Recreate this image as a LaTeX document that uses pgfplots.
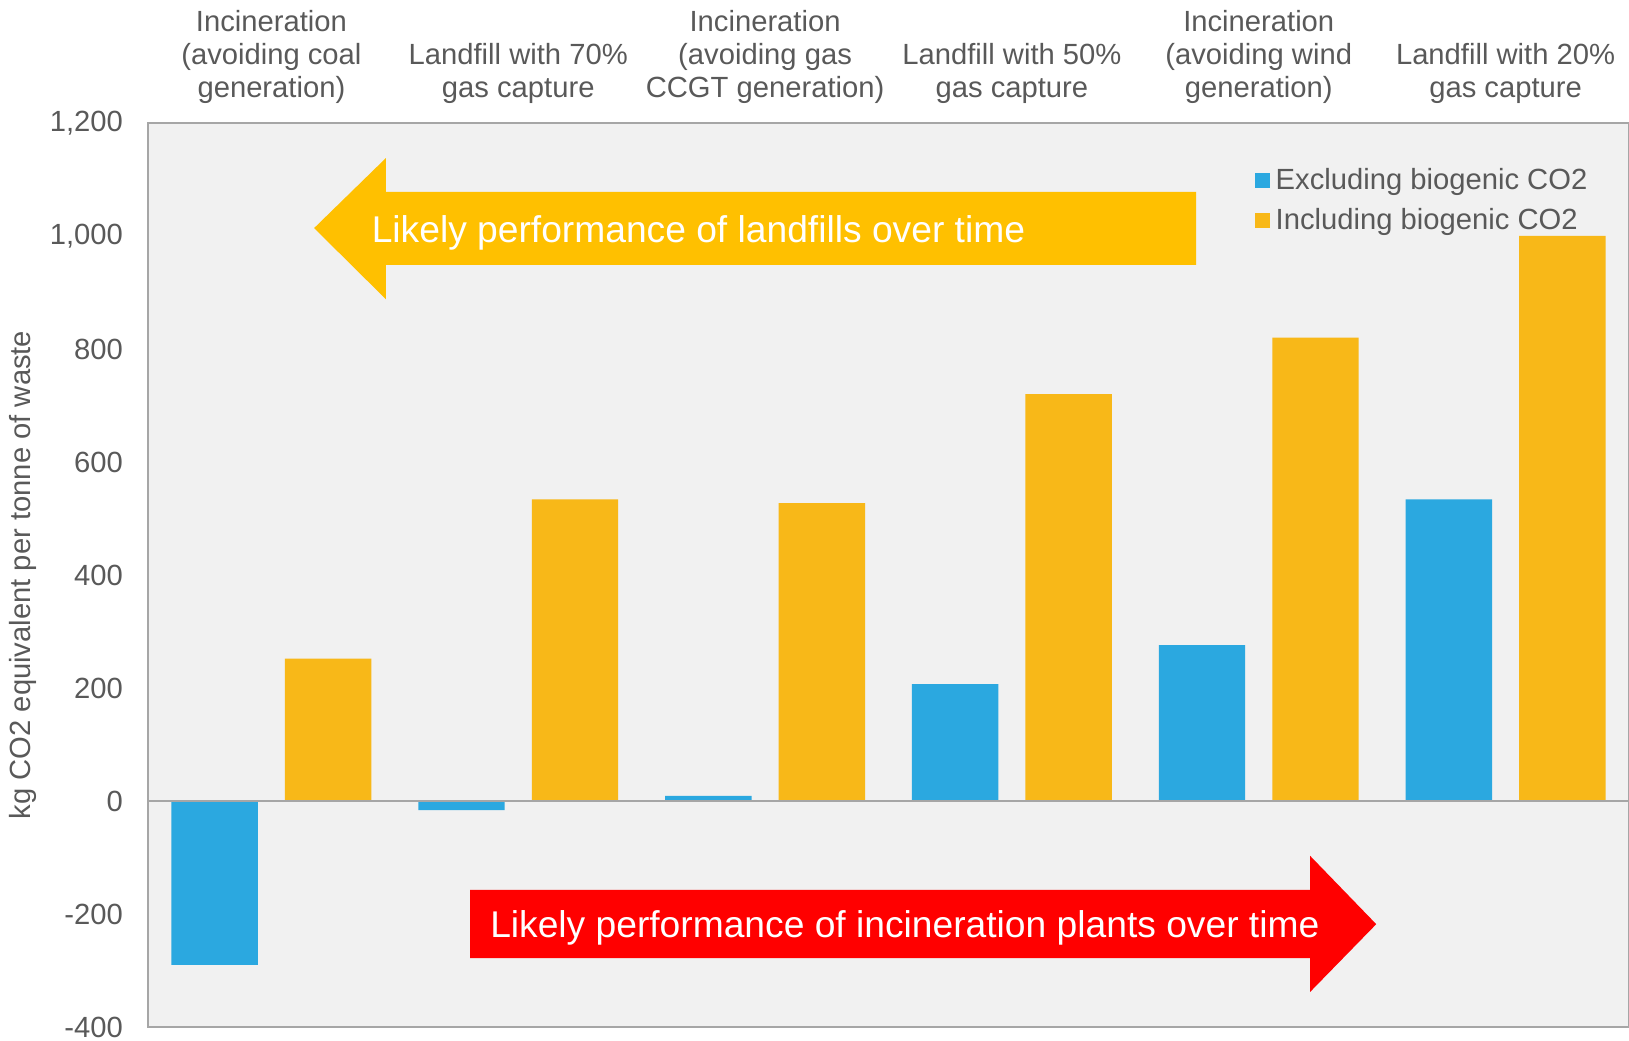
\documentclass[border=0pt]{standalone}
\usepackage{fontspec}
\setmainfont{Liberation Sans}
\usepackage{pgfplots}
\pgfplotsset{compat=1.18}
\definecolor{cblue}{HTML}{2BA8E0}
\definecolor{corange}{HTML}{F8B818}
\definecolor{aorange}{HTML}{FFC000}
\definecolor{ared}{HTML}{FF0000}
\definecolor{tgray}{HTML}{595959}
\definecolor{lgray}{HTML}{A6A6A6}
\definecolor{bggray}{HTML}{F1F1F1}
\begin{document}
\begin{tikzpicture}
\begin{axis}[
  at={(0,0)}, anchor=south west,
  scale only axis, width=740.5pt, height=452pt,
  xmin=-0.5, xmax=5.5, ymin=-400, ymax=1200,
  axis background/.style={fill=bggray},
  axis line style={lgray, line width=1pt},
  xtick={0,1,2,3,4,5},
  xticklabel pos=upper,
  xticklabels={{Incineration\\(avoiding coal\\generation)},{Landfill with 70\%\\gas capture},{Incineration\\(avoiding gas\\CCGT generation)},{Landfill with 50\%\\gas capture},{Incineration\\(avoiding wind\\generation)},{Landfill with 20\%\\gas capture}},
  xticklabel style={align=center, font=\fontsize{14.6}{16.5}\selectfont, text=tgray, anchor=south, yshift=6pt},
  ytick={-400,-200,0,200,400,600,800,1000,1200},
  yticklabel style={font=\fontsize{14.6}{17}\selectfont, text=tgray, xshift=-9pt},
  /pgf/number format/assume math mode=true,
  /pgf/number format/1000 sep={,},
  major tick length=0pt,
  ylabel={kg CO2 equivalent per tonne of waste},
  every axis y label/.style={at={(axis description cs:-0.0844,0.5)}, rotate=90, anchor=center, font=\fontsize{14.6}{17}\selectfont, text=tgray},
  ybar, bar width=0.35,
  legend style={at={(axis description cs:0.747,0.955)}, anchor=north west, draw=none, fill=none,
    font=\fontsize{14.6}{17}\selectfont, text=tgray, row sep=4pt, inner sep=0pt, cells={anchor=west}},
  legend image code/.code={\fill[#1] (0pt,-3.75pt) rectangle (7.5pt,3.75pt);},
  legend cell align=left,
]
\fill[aorange] (axis cs:0.173,1014) -- (axis cs:0.464,1138) -- (axis cs:0.464,1078) -- (axis cs:3.746,1078) -- (axis cs:3.746,949) -- (axis cs:0.464,949) -- (axis cs:0.464,888) -- cycle;
\fill[ared] (axis cs:0.805,-157.5) -- (axis cs:4.208,-157.5) -- (axis cs:4.208,-97) -- (axis cs:4.476,-218) -- (axis cs:4.208,-338) -- (axis cs:4.208,-278) -- (axis cs:0.805,-278) -- cycle;
\addplot[fill=cblue, draw=none, bar shift=-0.23] coordinates {(0,-290) (1,-16) (2,9) (3,207) (4,276) (5,534)};
\addplot[fill=corange, draw=none, bar shift=0.23] coordinates {(0,252) (1,534) (2,527) (3,720) (4,820) (5,1000)};
\legend{\hspace{1pt}Excluding biogenic CO2, \hspace{1pt}Including biogenic CO2}
\draw[lgray, line width=1pt] (axis cs:-0.5,0) -- (axis cs:5.5,0);
\node[anchor=west, text=white, font=\fontsize{18.6}{20}\selectfont, inner sep=0pt] at (axis cs:0.405,1006) {Likely performance of landfills over time};
\node[anchor=west, text=white, font=\fontsize{18.6}{20}\selectfont, inner sep=0pt] at (axis cs:0.885,-224) {Likely performance of incineration plants over time};
\end{axis}
\pgfresetboundingbox
\path[use as bounding box] (-74pt,-6.5pt) rectangle (740.5pt,513.5pt);
\end{tikzpicture}
\end{document}
